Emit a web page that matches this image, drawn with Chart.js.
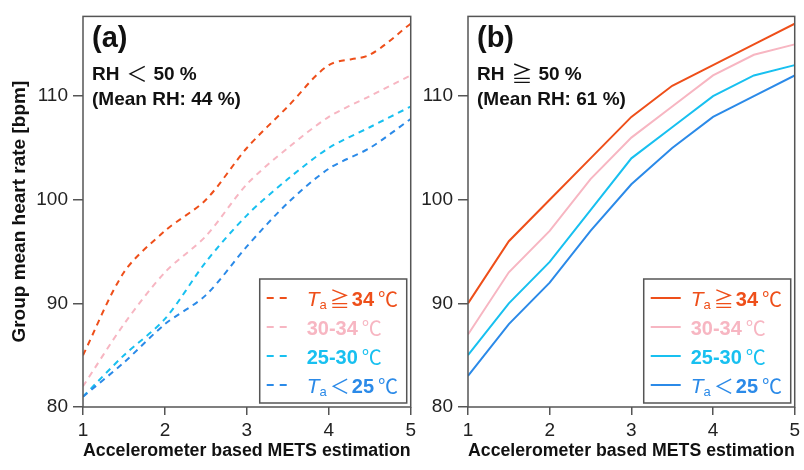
<!DOCTYPE html>
<html>
<head>
<meta charset="utf-8">
<script src="https://cdn.jsdelivr.net/npm/chart.js@4.4.1/dist/chart.umd.min.js"></script>
<style>
  html, body { margin: 0; padding: 0; background: #fff; }
  #wrap { position: relative; width: 804px; height: 470px; }
  .panel { position: absolute; top: 0; height: 470px; }
  #pa { left: 0; width: 420px; }
  #pb { left: 420px; width: 384px; }
</style>
</head>
<body>
<div id="wrap">
  <div class="panel" id="pa"><canvas id="ca"></canvas></div>
  <div class="panel" id="pb"><canvas id="cb"></canvas></div>
</div>
<script>
// x categories: METS estimation
const mets = [1, 1.5, 2, 2.5, 3, 3.5, 4, 4.5, 5];
const xTicks = [1, 2, 3, 4, 5];
const yTicks = [80, 90, 100, 110];

const seriesLabels = ['Ta ≧ 34 ℃', '30-34 ℃', '25-30 ℃', 'Ta ＜ 25 ℃'];
const seriesColors = ['#ee4f1a', '#f7b6c2', '#18c0f0', '#2b8ae8'];

// (a) RH < 50 %
const hrLowRh34 = [85, 93, 97, 100, 105, 109, 113, 114, 117];
const hrLowRh30 = [82, 88, 93, 96.5, 101.5, 105, 108, 110, 112];
const hrLowRh25 = [81, 85, 88.5, 94, 98.5, 102, 105, 107, 109];
const hrLowRhCool = [81, 84.3, 88, 90.8, 95.5, 99.7, 103, 105, 107.8];

// (b) RH >= 50 %
const hrHighRh34 = [90, 96, 100, 104, 108, 111, 113, 115, 117];
const hrHighRh30 = [87, 93, 97, 102, 106, 109, 112, 114, 115];
const hrHighRh25 = [85, 90, 94, 99, 104, 107, 110, 112, 113];
const hrHighRhCool = [83, 88, 92, 97, 101.5, 105, 108, 110, 112];

const FONT = "'Liberation Sans', Arial, 'Noto Sans CJK JP', sans-serif";
const SYM = "'Noto Sans CJK JP', 'DejaVu Sans', sans-serif";
const AXIS = '#555';

function makeDatasets(values, dashed) {
  return values.map((v, i) => ({
    label: seriesLabels[i],
    data: mets.map((m, j) => ({ x: m, y: v[j] })),
    borderColor: seriesColors[i],
    borderWidth: 2,
    borderDash: dashed ? [6, 5] : [],
    pointRadius: 0,
    tension: dashed ? 0.3 : 0,
    fill: false
  })).reverse();
}

// legend label with italic T, subscript a, bold numbers
function drawLabel(ctx, label, x, y, color) {
  ctx.fillStyle = color;
  ctx.textBaseline = 'alphabetic';
  ctx.textAlign = 'left';
  label.split(' ').forEach(p => {
    if (p === 'Ta') {
      ctx.font = 'italic 21px ' + FONT;
      ctx.fillText('T', x, y);
      x += ctx.measureText('T').width;
      ctx.font = '13px ' + FONT;
      ctx.fillText('a', x, y + 3);
      x += ctx.measureText('a').width + 3;
    } else if (p === '≧' || p === '＜') {
      ctx.font = '20px ' + SYM;
      ctx.fillText(p, x, y + 1);
      x += ctx.measureText(p).width + 2;
    } else if (p === '℃') {
      ctx.font = '20px ' + SYM;
      ctx.fillText(p, x, y + 1);
      x += ctx.measureText(p).width + 3;
    } else {
      ctx.font = 'bold 20px ' + FONT;
      ctx.fillText(p, x, y);
      x += ctx.measureText(p).width + 4;
    }
  });
}

const panelDecor = {
  id: 'panelDecor',
  afterDatasetsDraw(chart, args, opts) {
    const { ctx, chartArea: a } = chart;
    ctx.save();
    // frame
    ctx.strokeStyle = AXIS;
    ctx.lineWidth = 1.5;
    ctx.strokeRect(a.left, a.top, a.right - a.left, a.bottom - a.top);

    // panel texts
    ctx.fillStyle = '#111';
    ctx.textAlign = 'left';
    ctx.textBaseline = 'alphabetic';
    ctx.font = 'bold 29px ' + FONT;
    ctx.fillText(opts.tag, a.left + 9, a.top + 31);
    let x = a.left + 9;
    opts.rh.forEach(p => {
      if (p === '≧' || p === '＜') {
        ctx.font = '21px ' + SYM;
        ctx.fillText(p, x, a.top + 65);
        x += ctx.measureText(p).width + 6;
      } else {
        ctx.font = 'bold 19px ' + FONT;
        ctx.fillText(p, x, a.top + 64);
        x += ctx.measureText(p).width + 7;
      }
    });
    ctx.font = 'bold 19px ' + FONT;
    ctx.fillText(opts.mean, a.left + 9, a.top + 89);

    // legend box
    const bw = 147, bh = 124;
    const bx = a.right - 4 - bw, by = a.bottom - 4 - bh;
    ctx.fillStyle = '#fff';
    ctx.fillRect(bx, by, bw, bh);
    ctx.strokeStyle = AXIS;
    ctx.lineWidth = 1.5;
    ctx.strokeRect(bx, by, bw, bh);
    seriesLabels.forEach((lab, i) => {
      const cy = by + 19 + i * 29;
      ctx.strokeStyle = seriesColors[i];
      ctx.lineWidth = 2;
      ctx.setLineDash(opts.dashed ? [7, 6] : []);
      ctx.beginPath();
      ctx.moveTo(bx + 7, cy);
      ctx.lineTo(bx + (opts.dashed ? 33 : 37), cy);
      ctx.stroke();
      ctx.setLineDash([]);
      drawLabel(ctx, lab, bx + 47, cy + 8, seriesColors[i]);
    });
    ctx.restore();
  }
};

function makeChart(el, values, dashed, yWidth, showYTitle, decor, rightPad) {
  return new Chart(el, {
    type: 'line',
    data: { datasets: makeDatasets(values, dashed) },
    options: {
      responsive: true,
      maintainAspectRatio: false,
      animation: false,
      layout: { padding: { top: 13, right: rightPad, left: 0, bottom: 0 } },
      plugins: {
        legend: { display: false },
        tooltip: { enabled: false },
        panelDecor: decor
      },
      scales: {
        x: {
          type: 'linear',
          min: 1,
          max: 5,
          afterBuildTicks: s => { s.ticks = xTicks.map(v => ({ value: v })); },
          afterFit: s => { s.height = 63; },
          border: { display: false },
          grid: { drawOnChartArea: false, drawTicks: true, tickLength: 8, color: AXIS, lineWidth: 1.5 },
          ticks: { color: '#222', padding: 4, font: { family: FONT, size: 19 } },
          title: {
            display: true,
            text: 'Accelerometer based METS estimation',
            color: '#111',
            padding: { top: 0, bottom: 8 },
            font: { family: FONT, size: 18, weight: 'bold' }
          }
        },
        y: {
          min: 80,
          max: 117.7,
          afterBuildTicks: s => { s.ticks = yTicks.map(v => ({ value: v })); },
          afterFit: s => { s.width = yWidth; },
          border: { display: false },
          grid: { drawOnChartArea: false, drawTicks: true, tickLength: 10, color: AXIS, lineWidth: 1.5 },
          ticks: { color: '#222', padding: 5, font: { family: FONT, size: 19 } },
          title: {
            display: showYTitle,
            text: 'Group mean heart rate [bpm]',
            color: '#111',
            padding: { top: 8, bottom: 8 },
            font: { family: FONT, size: 19, weight: 'bold' }
          }
        }
      }
    },
    plugins: [panelDecor]
  });
}

makeChart(document.getElementById('ca'),
  [hrLowRh34, hrLowRh30, hrLowRh25, hrLowRhCool], true, 83, true,
  { tag: '(a)', rh: ['RH', '＜', '50 %'], mean: '(Mean RH: 44 %)', dashed: true }, 8);

makeChart(document.getElementById('cb'),
  [hrHighRh34, hrHighRh30, hrHighRh25, hrHighRhCool], false, 48, false,
  { tag: '(b)', rh: ['RH', '≧', '50 %'], mean: '(Mean RH: 61 %)', dashed: false }, 6);
</script>
</body>
</html>
